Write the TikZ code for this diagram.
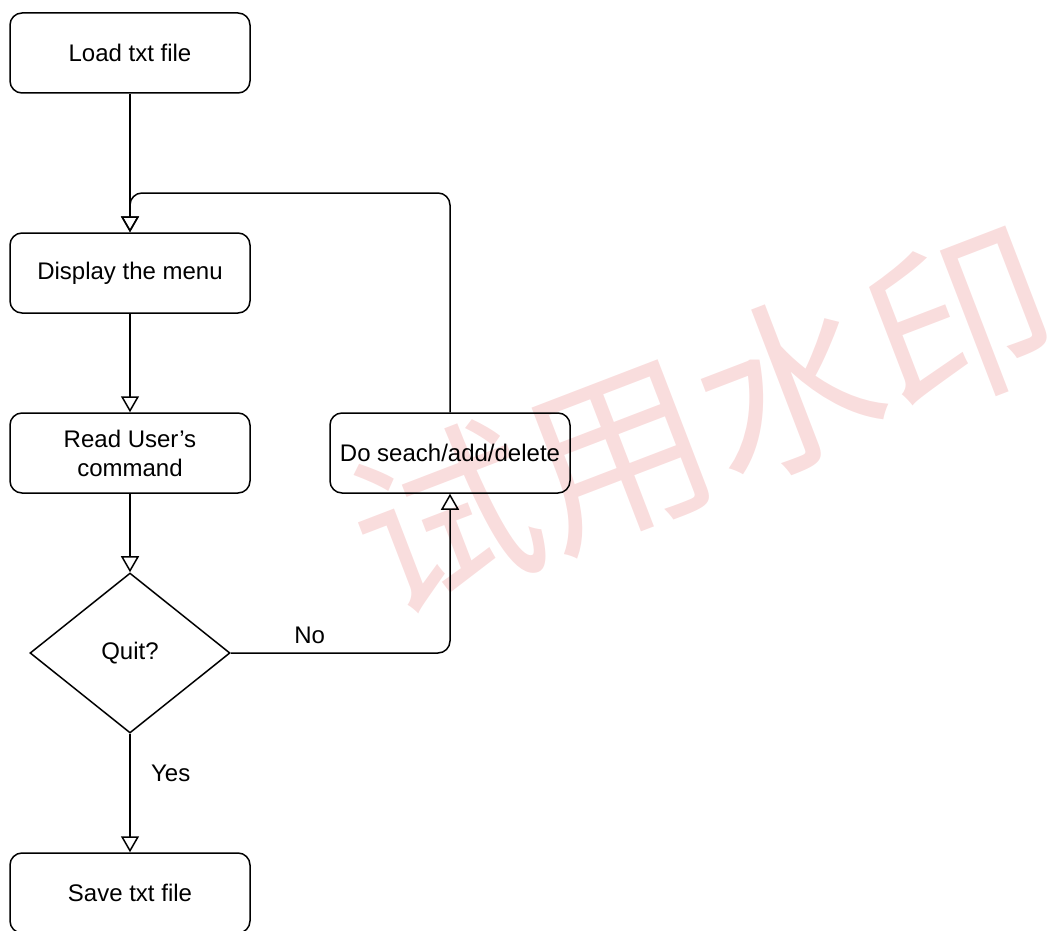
\documentclass[tikz,border=0pt]{standalone}
\usepackage{fontspec}
\setmainfont{Liberation Sans}
\newfontfamily\cjkfont{Noto Sans CJK SC}
\usetikzlibrary{arrows.meta}
\usetikzlibrary{shapes.geometric}

\definecolor{wmpink}{RGB}{249,221,221}

\begin{document}
\begin{tikzpicture}[x=1pt, y=-1pt, font=\fontsize{24}{29}\selectfont,
    box/.style={draw, line width=1.5pt, rounded corners=12pt, minimum width=240pt, minimum height=80pt, align=center, inner sep=0pt},
    decision/.style={draw, line width=1.5pt, diamond, minimum width=200pt, minimum height=160pt, inner sep=0pt},
    flow/.style={line width=1.5pt, -{Triangle[open, length=16pt, width=18pt, line width=1.5pt]}}]
    \useasboundingbox (0,0) rectangle (1047,931);

    % watermark
    \node[rotate=21, text=wmpink, font=\cjkfont\fontsize{184}{184}\selectfont] (mark) at (703,420) {试用水印};

    \node[box] (load) at (130,53) {Load txt file};
    \node[box] (disp) at (130,273) {Display the menu};
    \node[box] (read) at (130,453) {Read User's\\command};
    \node[decision] (quit) at (130,653) {Quit?};
    \node[box] (save) at (130,893) {Save txt file};
    \node[box] (do) at (450,453) {Do seach/add/delete};

    \coordinate (loopturn) at (450,193);

    \draw[flow] (load) -- (disp);
    \draw[flow] (disp) -- (read);
    \draw[flow] (read) -- (quit);
    \draw[flow] (quit) -- node[pos=0.33, right=17pt] {Yes} (save);
    \draw[flow, rounded corners=12pt] (quit.east) -| node[pos=0.18, above=5pt] {No} (do.south);
    \draw[flow, rounded corners=12pt] (do.north) -- (loopturn) -| (disp.north);

\end{tikzpicture}
\end{document}
